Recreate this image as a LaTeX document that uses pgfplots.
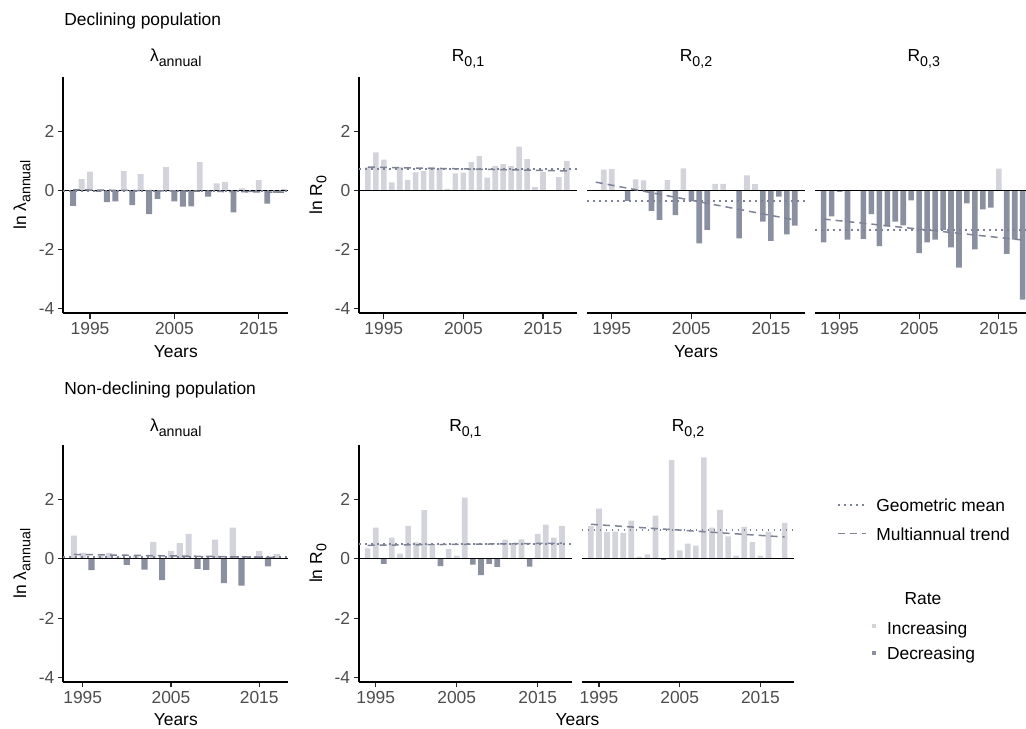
\documentclass[border=0pt]{standalone}
\usepackage{fontspec}
\setmainfont{Liberation Sans}
\usepackage{pgfplots}
\usepackage{pgfplotstable}
\pgfplotsset{compat=1.18}
\definecolor{cInc}{RGB}{211,212,219}
\definecolor{cDec}{RGB}{139,144,161}
\definecolor{cLn}{RGB}{125,130,150}
\definecolor{cTk}{RGB}{77,77,77}
\newcommand{\fs}{\fontsize{8.7pt}{10pt}\selectfont}
\newcommand{\sub}[1]{\raisebox{-2.2pt}{\fontsize{7.1pt}{8pt}\selectfont #1}}

% ---------- Declining population ----------
\pgfplotstableread{
y v
1993 -0.52
1994 0.38
1995 0.64
1996 -0.05
1997 -0.40
1998 -0.37
1999 0.66
2000 -0.50
2001 0.55
2002 -0.80
2003 -0.29
2004 0.79
2005 -0.37
2006 -0.55
2007 -0.54
2008 0.96
2009 -0.21
2010 0.24
2011 0.29
2012 -0.74
2013 0.07
2014 -0.06
2015 0.35
2016 -0.45
2017 -0.08
2018 0.04
}\tTL
\pgfplotstableread{
y v
1993 0.78
1994 1.29
1995 1.04
1996 0.27
1997 0.80
1998 0.36
1999 0.61
2000 0.66
2001 0.80
2002 0.74
2003 0.05
2004 0.58
2005 0.60
2006 0.96
2007 1.16
2008 0.43
2009 0.83
2010 0.89
2011 0.82
2012 1.48
2013 1.06
2014 0.11
2015 0.63
2016 -0.02
2017 0.45
2018 0.99
}\tTa
\pgfplotstableread{
y v
1993 0.02
1994 0.70
1995 0.73
1996 0.02
1997 -0.35
1998 0.37
1999 0.34
2000 -0.69
2001 -1.00
2002 0.35
2003 -0.84
2004 0.75
2005 -0.35
2006 -1.79
2007 -1.34
2008 0.22
2009 0.22
2010 0.01
2011 -1.62
2012 0.51
2013 0.21
2014 -1.06
2015 -1.71
2016 -0.21
2017 -1.49
2018 -1.19
}\tTb
\pgfplotstableread{
y v
1993 -1.76
1994 -0.88
1995 -0.05
1996 -1.67
1997 0.02
1998 -1.64
1999 -0.80
2000 -1.89
2001 -1.22
2002 -1.06
2003 -1.18
2004 -0.34
2005 -2.12
2006 -1.76
2007 -1.67
2008 -1.34
2009 -1.93
2010 -2.61
2011 -0.44
2012 -2.00
2013 -0.64
2014 -0.58
2015 0.74
2016 -2.15
2017 -1.67
2018 -3.70
}\tTc

% ---------- Non-declining population ----------
\pgfplotstableread{
y v
1994 0.79
1995 0.20
1996 -0.38
1997 0.09
1998 0.20
1999 0.05
2000 -0.20
2001 0.11
2002 -0.36
2003 0.58
2004 -0.72
2005 0.27
2006 0.53
2007 0.85
2008 -0.34
2009 -0.37
2010 0.65
2011 -0.82
2012 1.06
2013 -0.90
2014 0.02
2015 0.27
2016 -0.25
2017 0.17
}\tBL
\pgfplotstableread{
y v
1994 0.36
1995 1.06
1996 -0.17
1997 0.72
1998 0.18
1999 1.12
2000 0.56
2001 1.65
2002 0.45
2003 -0.24
2004 0.34
2005 0.11
2006 2.07
2007 -0.19
2008 -0.55
2009 -0.17
2010 -0.27
2011 0.65
2012 0.54
2013 0.66
2014 -0.26
2015 0.85
2016 1.16
2017 0.72
2018 1.12
}\tBa
\pgfplotstableread{
y v
1994 1.11
1995 1.70
1996 0.91
1997 0.92
1998 0.88
1999 1.29
2000 0.08
2001 0.15
2002 1.46
2003 -0.04
2004 3.34
2005 0.29
2006 0.52
2007 0.45
2008 3.43
2009 1.06
2010 1.66
2011 0.76
2012 0.11
2013 1.08
2014 0.57
2015 0.11
2016 0.92
2017 0.01
2018 1.22
}\tBb

\tikzset{
  gm/.style={cLn, line width=0.8pt, dash pattern=on 0.8pt off 2.2pt},
  tr/.style={cLn, line width=0.75pt, dash pattern=on 3.5pt off 2.5pt},
}
\pgfplotsset{
  panel/.style={scale only axis, anchor=north west,
    ymin=-4.16, ymax=3.85,
    axis x line*=bottom, axis y line*=left,
    axis line style={-, line width=0.9pt, black},
    tick align=outside, major tick length=2.75pt,
    tick style={line width=0.55pt, black!85},
    xtick={1995,2005,2015}, xticklabels={1995,2005,2015},
    ytick={-4,-2,0,2}, yticklabels={-4,-2,0,2},
    tick label style={font=\fs, text=cTk},
    yticklabel style={inner sep=1.5pt},
    xticklabel style={inner sep=1.5pt},
    clip=false},
  noy/.style={axis y line=none, ytick=\empty},
  incbar/.style={ybar, bar width=0.7, bar shift=0pt, fill=cInc, draw=none, restrict y to domain=0:100},
  decbar/.style={ybar, bar width=0.7, bar shift=0pt, fill=cDec, draw=none, restrict y to domain=-100:0},
}
\newcommand{\zeroline}{\draw[black, line width=0.5pt] ({rel axis cs:0,0}|-{axis cs:2000,0}) -- ({rel axis cs:1,0}|-{axis cs:2000,0});}

\begin{document}
\begin{tikzpicture}
\useasboundingbox (0,0) rectangle (513pt,364pt);
\fs
% ===== top row =====
\begin{axis}[panel, at={(31.65pt,325.65pt)}, width=112.5pt, height=118.3pt, xmin=1991.83, xmax=2018.5]
\addplot[incbar] table[x=y,y=v]{\tTL};
\addplot[decbar] table[x=y,y=v]{\tTL};
\zeroline
\addplot[gm] coordinates {(1991.83,-0.02) (2018.5,-0.02)};
\addplot[tr] coordinates {(1993,0.02) (2018,-0.06)};
\end{axis}
\begin{axis}[panel, at={(179.65pt,325.65pt)}, width=108.75pt, height=118.3pt, xmin=1991.92, xmax=2019.25]
\addplot[incbar] table[x=y,y=v]{\tTa};
\addplot[decbar] table[x=y,y=v]{\tTa};
\zeroline
\addplot[gm] coordinates {(1991.92,0.72) (2019.25,0.72)};
\addplot[tr] coordinates {(1993,0.79) (2018,0.66)};
\end{axis}
\begin{axis}[panel, noy, at={(293.6pt,325.65pt)}, width=108.75pt, height=118.3pt, xmin=1991.92, xmax=2019.25]
\addplot[incbar] table[x=y,y=v]{\tTb};
\addplot[decbar] table[x=y,y=v]{\tTb};
\zeroline
\addplot[gm] coordinates {(1991.92,-0.35) (2019.25,-0.35)};
\addplot[tr] coordinates {(1993,0.28) (2018,-1.00)};
\end{axis}
\begin{axis}[panel, noy, at={(407.5pt,325.65pt)}, width=105.5pt, height=118.3pt, xmin=1991.92, xmax=2018.42]
\addplot[incbar] table[x=y,y=v]{\tTc};
\addplot[decbar] table[x=y,y=v]{\tTc};
\zeroline
\addplot[gm] coordinates {(1991.92,-1.33) (2018.42,-1.33)};
\addplot[tr] coordinates {(1993,-0.97) (2018,-1.68)};
\end{axis}
% ===== bottom row =====
\begin{axis}[panel, at={(31.65pt,141.5pt)}, width=112.5pt, height=118.5pt, xmin=1992.8, xmax=2018.3]
\addplot[incbar] table[x=y,y=v]{\tBL};
\addplot[decbar] table[x=y,y=v]{\tBL};
\zeroline
\addplot[gm] coordinates {(1992.8,0.06) (2018.3,0.06)};
\addplot[tr] coordinates {(1994,0.15) (2017,0.05)};
\end{axis}
\begin{axis}[panel, at={(179.5pt,141.5pt)}, width=106.35pt, height=118.5pt, xmin=1992.94, xmax=2019.2]
\addplot[incbar] table[x=y,y=v]{\tBa};
\addplot[decbar] table[x=y,y=v]{\tBa};
\zeroline
\addplot[gm] coordinates {(1992.94,0.50) (2019.2,0.50)};
\addplot[tr] coordinates {(1994,0.46) (2018,0.53)};
\end{axis}
\begin{axis}[panel, noy, at={(290.85pt,141.5pt)}, width=106.3pt, height=118.5pt, xmin=1992.86, xmax=2019.2]
\addplot[incbar] table[x=y,y=v]{\tBb};
\addplot[decbar] table[x=y,y=v]{\tBb};
\zeroline
\addplot[gm] coordinates {(1992.86,0.97) (2019.2,0.97)};
\addplot[tr] coordinates {(1994,1.17) (2018,0.74)};
\end{axis}

% ===== texts =====
\node[anchor=base west, inner sep=0] at (32pt,351pt) {Declining population};
\node[anchor=base west, inner sep=0] at (32pt,166.5pt) {Non-declining population};
% panel titles
\node[anchor=base, inner sep=0] at (87.9pt,333.15pt) {λ\sub{annual}};
\node[anchor=base, inner sep=0] at (234pt,333.15pt) {R\sub{0,1}};
\node[anchor=base, inner sep=0] at (348pt,333.15pt) {R\sub{0,2}};
\node[anchor=base, inner sep=0] at (461.9pt,333.15pt) {R\sub{0,3}};
\node[anchor=base, inner sep=0] at (87.9pt,148.15pt) {λ\sub{annual}};
\node[anchor=base, inner sep=0] at (232.7pt,148.15pt) {R\sub{0,1}};
\node[anchor=base, inner sep=0] at (344pt,148.15pt) {R\sub{0,2}};
% x labels
\node[anchor=base, inner sep=0] at (87.9pt,185.35pt) {Years};
\node[anchor=base, inner sep=0] at (348pt,185.35pt) {Years};
\node[anchor=base, inner sep=0] at (87.9pt,1.5pt) {Years};
\node[anchor=base, inner sep=0] at (288.75pt,1.5pt) {Years};
% y labels
\node[rotate=90, inner sep=0] at (11pt,266.5pt) {ln λ\sub{annual}};
\node[rotate=90, inner sep=0] at (11pt,82.25pt) {ln λ\sub{annual}};
\node[rotate=90, inner sep=0] at (159pt,266.5pt) {ln R\sub{0}};
\node[rotate=90, inner sep=0] at (159pt,82.25pt) {ln R\sub{0}};
% legend
\draw[gm] (419pt,111.5pt) -- (433pt,111.5pt);
\node[anchor=base west, inner sep=0] at (438pt,108.15pt) {Geometric mean};
\draw[tr] (419pt,97.35pt) -- (433pt,97.35pt);
\node[anchor=base west, inner sep=0] at (438pt,94pt) {Multiannual trend};
\node[anchor=base, inner sep=0] at (461.5pt,62pt) {Rate};
\fill[cInc] (435.8pt,49.9pt) rectangle (438pt,52.1pt);
\node[anchor=base west, inner sep=0] at (443.3pt,47pt) {Increasing};
\fill[cDec] (435.8pt,36.45pt) rectangle (438pt,38.65pt);
\node[anchor=base west, inner sep=0] at (443.3pt,34.5pt) {Decreasing};
\end{tikzpicture}
\end{document}
